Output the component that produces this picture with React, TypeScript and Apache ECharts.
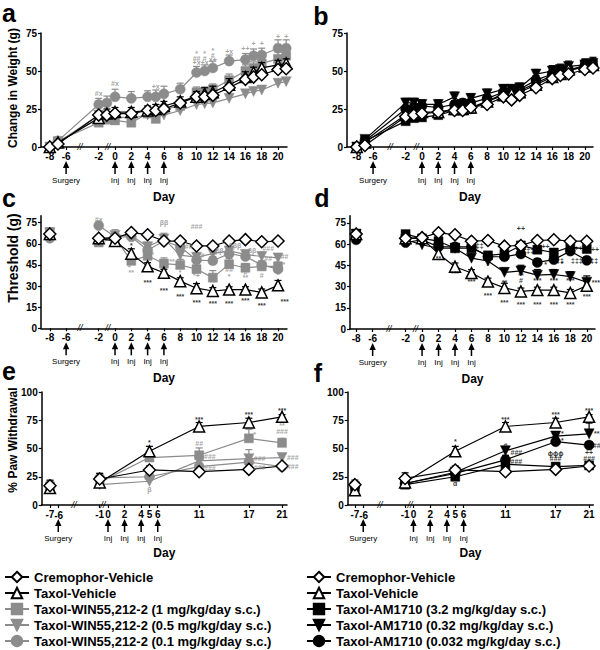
import React, { useEffect, useRef } from 'react';
import * as echarts from 'echarts';

const FONT = 'Liberation Sans, Arial, Helvetica, sans-serif';
const GREY = '#8c8c8c';

// ---- names ----
const CREM = 'Cremophor-Vehicle';
const TAX = 'Taxol-Vehicle';
const WIN1 = 'Taxol-WIN55,212-2 (1 mg/kg/day s.c.)';
const WIN05 = 'Taxol-WIN55,212-2 (0.5 mg/kg/day s.c.)';
const WIN01 = 'Taxol-WIN55,212-2 (0.1 mg/kg/day s.c.)';
const AM32 = 'Taxol-AM1710 (3.2 mg/kg/day s.c.)';
const AM032 = 'Taxol-AM1710 (0.32 mg/kg/day s.c.)';
const AM0032 = 'Taxol-AM1710 (0.032 mg/kg/day s.c.)';
const LEFT_NAMES = [CREM, TAX, WIN1, WIN05, WIN01];
const RIGHT_NAMES = [CREM, TAX, AM32, AM032, AM0032];

// ---- panels a & b: change in weight (g) ----
const weightDays = [-8, -7, -2, -1, 0, 2, 4, 5, 6, 8, 10, 11, 12, 14, 16, 17, 18, 20, 21];
const wCremA = [0, 2, 21, 21, 22, 22, 24, 24, 25, 29, 33, 33, 34, 39, 44.5, 46, 47.5, 51, 51.5];
const wTaxA = [0, 3, 19, 22, 23, 23, 24, 25, 27, 30, 33, 35, 36, 41, 46, 49, 52, 54, 55];
const wWin1 = [0, 4, 16, 18, 17.5, 16, 22, 18.5, 25, 27, 36, 36, 38, 44, 50, 52, 55, 58, 60];
const wWin05 = [0, 3, 21, 20, 20, 19, 21, 20, 21, 24, 28, 28.5, 29, 32, 35, 36.5, 37.5, 42, 43];
const wWin01 = [0, 4, 28, 29, 33, 32, 33, 33, 35, 38, 49, 50, 52, 56.5, 57.5, 60, 60.5, 65, 65];
const wCremB = [0, 1, 20, 21, 22, 23, 24, 24, 26, 28, 33, 31, 34, 39, 45, 47, 48, 51, 52];
const wTaxB = [0, 3, 21, 22, 23, 23, 25, 25, 26, 30, 34, 35, 36, 41, 46, 48, 51, 53, 54];
const wAm32 = [0, 4, 17, 19, 19.5, 21, 24, 24, 25, 30, 35, 36, 37, 42, 47, 49, 50, 54, 54];
const wAm032 = [0, 5, 29, 29, 28, 28, 33, 28, 32, 35, 38, 38, 39, 48, 50, 51, 53, 54, 55];
const wAm0032 = [0, 4, 25, 26, 27, 26, 28, 29, 29, 32, 36, 37, 38, 44, 48, 49, 50, 53, 53];
// SEM (upper error bars)
const sCremA = [0, 1, 2, 2, 2, 2, 2, 2, 2, 2, 2, 2, 2, 2, 2, 2, 2, 2, 2];
const sTaxA = [0, 1, 2.5, 3, 3, 3, 3, 3, 3, 3, 3.5, 4, 4, 4, 3.5, 3.5, 3.5, 3, 3];
const sWin1 = [0, 1.5, 2.5, 3, 3, 3, 3, 2.5, 3, 3, 3.5, 3.5, 3.5, 4, 4, 4, 4, 4.5, 4.5];
const sWin05 = [0, 1, 2, 2, 2, 2, 2, 2, 2, 2, 2, 2, 2, 2, 2, 2, 2, 2.5, 2.5];
const sWin01 = [0, 1.5, 4, 4.5, 5, 4.5, 4, 4.5, 5, 4, 4, 4, 4.5, 4, 4, 4.5, 4.5, 5.5, 5.5];
const sCremB = [0, 1, 2, 2, 2, 2, 2, 2, 2, 2, 2, 2, 2, 2, 2, 2, 2, 2, 2];
const sTaxB = [0, 1, 2.5, 3, 3, 3, 3, 3, 3, 3, 3, 3, 3, 3.5, 4, 4, 4, 4, 4];
const sAm32 = [0, 1, 2, 2, 2, 2, 2.5, 2.5, 2.5, 3, 3, 3, 3, 3, 3.5, 3.5, 3.5, 3.5, 3.5];
const sAm032 = [0, 1.5, 3, 3, 3, 3, 3, 3, 3, 3, 3, 3, 3, 3, 3.5, 3.5, 3.5, 4, 4];
const sAm0032 = [0, 1, 2.5, 2.5, 2.5, 2.5, 2.5, 2.5, 2.5, 2.5, 2.5, 2.5, 2.5, 3, 3, 3, 3, 3, 3];

// ---- panels c & d: threshold (g) ----
const thrDays = [-8, -2, 0, 2, 4, 6, 8, 10, 12, 14, 16, 18, 20];
const tCremC = [67, 64, 64, 68, 66.5, 62, 62, 58.5, 58.5, 62, 63, 61.5, 62];
const tTaxC = [67, 64, 62, 53, 44, 39.5, 33.5, 28.5, 26.5, 27.5, 27.5, 25.5, 30.5];
const tWin1 = [68, 61, 64, 48, 51.5, 46, 45, 42, 36, 45.5, 43, 44, 44];
const tWin05 = [68, 62, 66, 66, 58, 63.5, 52, 50.5, 53, 55, 52.5, 51, 50];
const tWin01 = [64, 73, 65, 65, 55.5, 62, 58, 48.5, 48, 53, 51, 45, 42];
const tCremD = [67, 64, 64.5, 68, 66.5, 62, 62.5, 58.5, 59, 62.5, 63, 62, 62];
const tTaxD = [67, 64, 64, 53, 44, 39.5, 33.5, 29, 26.5, 27.5, 27.5, 25.5, 30.5];
const tAm32 = [67, 67, 64, 62, 57, 57, 52, 53, 59, 56, 54, 58, 56.5];
const tAm032 = [67, 63, 59.5, 57, 57, 50, 48, 40, 41, 38, 38.5, 37, 33];
const tAm0032 = [63, 61, 63, 58, 58, 58, 51, 51, 53, 47, 49, 55, 48.5];
const sCremC = [1, 1, 1.5, 2, 1.5, 1.5, 2, 2, 1.5, 1.5, 1, 1.5, 1];
const sTaxC = [1, 1, 2, 3.5, 2.6, 2.4, 2.4, 3.3, 2.4, 2, 2, 2.4, 3.5];
const sWin1C = [3, 1.5, 3, 3, 4, 4, 4, 4, 5, 4, 3, 3, 3];
const sWin05C = [3, 2, 4, 3, 3, 4, 4, 3, 3, 3, 3, 3, 3];
const sWin01C = [2, 2, 3, 3, 3, 3, 3, 3, 3, 3, 3, 3, 3];
const sCremD = [1, 1, 1.5, 2, 1.5, 1.5, 2, 2, 1.5, 1.5, 1, 1.5, 1];
const sTaxD = [1, 1, 2, 3.5, 2.6, 2.4, 2.4, 3.3, 2.4, 2, 2, 2.4, 3.5];
const sAm32D = [2, 2, 2, 2.5, 2.5, 2.5, 2.5, 2.5, 2.5, 2.5, 2.5, 2.5, 2.5];
const sAm032D = [2, 2, 3, 3, 3, 3, 3, 2.8, 4, 4, 3.5, 3.5, 4.5];
const sAm0032D = [2, 2, 2, 2.5, 2.5, 2.5, 2.5, 2.5, 2.5, 2.5, 2.5, 2.5, 2.5];

// ---- panels e & f: % paw withdrawal ----
const pawDays = [-7, -1, 5, 11, 17, 21];
const pCremE = [17, 23, 31, 29.5, 31.5, 34.5];
const pTaxE = [15, 20, 47.5, 69.5, 73, 78];
const pWin1 = [16, 20, 42, 44, 59, 55];
const pWin05 = [16, 18, 21, 39, 41, 42];
const pWin01 = [16, 24, 25, 34, 38, 34];
const pCremF = [18, 23.5, 31, 29.5, 31.5, 34.5];
const pTaxF = [13, 20, 47.5, 69.5, 73, 78];
const pAm32 = [16, 18, 25, 36, 34, 35];
const pAm032 = [16, 19, 29, 48, 61, 63];
const pAm0032 = [17, 19, 28, 40, 56, 53];
const sCremE = [5, 5, 3.5, 1, 1.5, 1.5];
const sTaxE = [2, 3, 4.4, 3.5, 3.8, 2];
const sWin1E = [5, 3, 3, 6.5, 8, 4];
const sWin05E = [5, 3, 3, 3, 8, 3];
const sWin01E = [5, 4, 3, 3, 3, 2];
const sCremF = [4, 5, 3.5, 1, 1.5, 1.5];
const sTaxF = [2, 3, 4.4, 3.5, 3.8, 2];
const sAm32F = [4, 3, 3, 3, 3, 2];
const sAm032F = [3, 3, 3, 3.8, 4, 9.5];
const sAm0032F = [3, 3, 3, 4, 4, 3];

// ---- axis ticks ----
const ticksDayABCD = [-8, -6, -2, 0, 2, 4, 6, 8, 10, 12, 14, 16, 18, 20];
const ticksDayEF = [-7, -6, -1, 0, 2, 4, 5, 6, 11, 17, 21];
const labelsDayEF = [-7, -1, 0, 2, 4, 5, 6, 11, 17, 21]; // -6 drawn separately (touches -7)
const ticksWeight = [0, 25, 50, 75];
const ticksThr = [0, 15, 30, 45, 60, 75];
const ticksPaw = [0, 25, 50, 75, 100];
const arrowDays = [-6, 0, 2, 4, 6];
const arrowLabels = ['Surgery', 'Inj', 'Inj', 'Inj', 'Inj'];

// ---- significance annotations [day, value, text] ----
const annA: [number, number, string][] = [
  [-2, 35, '#x'], [0, 42, '#x'], [5, 40, '+x'],
  [10, 61.5, '*'], [10, 58.5, '##'], [10, 55.5, '+x'],
  [11, 61.5, '*'], [11, 58.5, '#'], [11, 55.5, '+x'],
  [12, 63.5, '*'], [12, 60.5, '#'], [12, 57.5, 'x+'],
  [14, 63, '+x'], [16, 64.5, '++'], [17, 68, '+'], [18, 68, '+'], [20, 72.5, '+'], [21, 72.5, '+'],
];
const annCGrey: [number, number, string][] = [
  [-2, 77.5, '#x'], [2, 45, '$+'], [2, 40, '**'], [4.6, 52.5, '*'], [6, 75, 'ββ'], [7, 47.8, '**'],
  [8.8, 58, '###'], [10, 72, '###'], [8, 39.7, '*'], [10.5, 52, '##'], [10, 37.8, '*+'],
  [12.8, 55, 'ββ'], [12, 32.6, '**'], [14.7, 58.7, 'βββ'], [14, 42, '##'], [14, 36.7, '*'],
  [16.8, 55, 'ββ'], [16, 40, '#'], [16, 36, '**'], [18.8, 56.8, '###'], [18.8, 49.7, '##'], [18, 37.8, '#'],
  [20.8, 50.9, '##'], [20.7, 45, '*'], [20, 38.3, '*'],
];
const annCBlack: [number, number, string][] = [
  [2, 58.7, '*'], [4, 32.6, '***'], [6, 27, '***'], [8, 22.5, '***'], [10, 18.5, '***'], [12, 17.7, '***'],
  [14, 17.7, '***'], [16, 19.4, '***'], [18, 16, '***'], [20.8, 19, '***'],
];
const annD: [number, number, string][] = [
  [2, 49.8, '**'], [4, 39, '***'], [6, 33.4, '***'], [8, 45, '*'], [8, 23.5, '***'], [10, 33, '**'], [10, 18.8, '***'],
  [12, 71, '++'], [12, 37.6, '**'], [12, 33.9, '#'], [12, 17, '***'], [14, 33.9, '***'], [14, 17, '***'],
  [15, 58, '++'], [15, 45.6, '*'], [16, 33.9, '***'], [16, 17, '***'], [18, 33.9, '***'], [18, 17, '***'],
  [19, 56.5, '++'], [21, 56, '++'], [21.1, 33, '***'], [20, 23, '***'],
  [7, 59, '‡‡'], [12.9, 55.6, '‡‡‡'], [16.5, 48.6, '‡‡‡'], [18.8, 48.6, '‡‡‡'], [20.9, 48.6, '‡‡'], [17, 46, '*'],
];
const annEBlack: [number, number, string][] = [
  [5, 55, '*'], [11, 76, '***'], [17, 80, '***'], [21, 84, '***'],
];
const annEGrey: [number, number, string][] = [
  [21, 70, '**'], [21, 65, '###'], [17.7, 62, '*'], [11, 54, '##'], [12.3, 43, '###'], [12.3, 32.5, '###'],
  [18.3, 41, '###'], [18.3, 33, '###'], [22.3, 42, '###'], [22.3, 34, '###'], [5, 14, 'β'],
];
const annF: [number, number, string][] = [
  [5, 56, '*'], [11, 76, '***'], [17, 80, '***'], [21, 84, '***'], [11, 53, '#'], [12.3, 46.4, '###'],
  [12.3, 38.5, '###'], [17.8, 63.6, '*'], [17.8, 57, '*'], [17, 45.9, 'ϕϕϕ'], [17, 41.4, '###'],
  [21.9, 63, '**'], [21.9, 52.7, '##'], [21, 46.4, '++'], [21, 41.4, '###'], [5, 19.2, 'α'],
];

type Sty = { symbol: string; size: number; rotate?: number; fill: string; stroke: string; line: string; z: number };
const STY: Record<string, Sty> = {
  [CREM]: { symbol: 'diamond', size: 12, fill: '#fff', stroke: '#000', line: '#000', z: 6 },
  [TAX]: { symbol: 'triangle', size: 11, fill: '#fff', stroke: '#000', line: '#000', z: 5 },
  [WIN1]: { symbol: 'rect', size: 9, fill: GREY, stroke: GREY, line: GREY, z: 3 },
  [WIN05]: { symbol: 'triangle', rotate: 180, size: 10, fill: GREY, stroke: GREY, line: GREY, z: 3 },
  [WIN01]: { symbol: 'circle', size: 10, fill: GREY, stroke: GREY, line: GREY, z: 3 },
  [AM32]: { symbol: 'rect', size: 9, fill: '#000', stroke: '#000', line: '#000', z: 3 },
  [AM032]: { symbol: 'triangle', rotate: 180, size: 10, fill: '#000', stroke: '#000', line: '#000', z: 3 },
  [AM0032]: { symbol: 'circle', size: 10, fill: '#000', stroke: '#000', line: '#000', z: 3 },
};

function lineSeries(name: string, days: number[], vals: number[], idx: number, gapAfterFirst: boolean) {
  const s = STY[name];
  const data: any[] = [];
  days.forEach((d, i) => {
    data.push([d, vals[i]]);
    if (gapAfterFirst && i === 0) data.push([(d + days[1]) / 2, '-']);
  });
  const open = s.fill === '#fff';
  return {
    type: 'line',
    name,
    xAxisIndex: idx,
    yAxisIndex: idx,
    data,
    symbol: s.symbol,
    symbolSize: s.size,
    symbolRotate: s.rotate || 0,
    showAllSymbol: true,
    connectNulls: false,
    clip: false,
    z: s.z,
    lineStyle: { color: s.line, width: 1.2 },
    itemStyle: { color: s.fill, borderColor: s.stroke, borderWidth: open ? 1.5 : 0.5, opacity: 1 },
    emphasis: { disabled: true },
    silent: true,
  };
}

function errSeries(name: string, days: number[], vals: number[], sems: number[], idx: number) {
  const s = STY[name];
  const color = s.line;
  return {
    type: 'custom',
    xAxisIndex: idx,
    yAxisIndex: idx,
    silent: true,
    z: s.z - 0.5,
    encode: { x: 0, y: [1, 2] },
    data: days.map((d, i) => [d, vals[i], vals[i] + sems[i]]),
    renderItem: (_p: any, api: any) => {
      const x = api.value(0);
      const p0 = api.coord([x, api.value(1)]);
      const p1 = api.coord([x, api.value(2)]);
      if (Math.abs(p0[1] - p1[1]) < 0.5) return { type: 'group', children: [] };
      return {
        type: 'group',
        children: [
          { type: 'line', shape: { x1: p0[0], y1: p0[1], x2: p1[0], y2: p1[1] }, style: { stroke: color, lineWidth: 1.2 } },
          { type: 'line', shape: { x1: p1[0] - 3.5, y1: p1[1], x2: p1[0] + 3.5, y2: p1[1] }, style: { stroke: color, lineWidth: 1.2 } },
        ],
      };
    },
  };
}

function annSeries(idx: number, list: [number, number, string][], color: string) {
  return {
    type: 'scatter',
    xAxisIndex: idx,
    yAxisIndex: idx,
    symbolSize: 1,
    clip: false,
    silent: true,
    z: 8,
    itemStyle: { color: 'rgba(0,0,0,0)' },
    label: { show: true, position: 'inside', fontSize: 7, fontWeight: 'bold', fontFamily: FONT, color },
    data: list.map((a) => ({ value: [a[0], a[1]], label: { formatter: a[2] } })),
  };
}

const GRIDS = [
  { left: 41, top: 33, width: 246, height: 114, xmin: -9.08, xmax: 21.1, ymax: 75, yt: ticksWeight, xt: ticksDayABCD, xl: ticksDayABCD },
  { left: 347, top: 33, width: 246, height: 114, xmin: -9.2, xmax: 21.0, ymax: 75, yt: ticksWeight, xt: ticksDayABCD, xl: ticksDayABCD },
  { left: 41, top: 215.7, width: 246, height: 112.6, xmin: -9.08, xmax: 21.1, ymax: 80, yt: ticksThr, xt: ticksDayABCD, xl: ticksDayABCD },
  { left: 350, top: 215.7, width: 245, height: 113.3, xmin: -8.75, xmax: 21.0, ymax: 80, yt: ticksThr, xt: ticksDayABCD, xl: ticksDayABCD },
  { left: 41.7, top: 392, width: 245.3, height: 113, xmin: -8.0, xmax: 21.6, ymax: 100, yt: ticksPaw, xt: ticksDayEF, xl: labelsDayEF },
  { left: 347.7, top: 392, width: 245.6, height: 113, xmin: -7.86, xmax: 21.5, ymax: 100, yt: ticksPaw, xt: ticksDayEF, xl: labelsDayEF },
];
const NAME_GAPS = [44, 44, 44, 44, 42, 42];

const tickLabel = { fontSize: 10, fontWeight: 'bold', color: '#000', fontFamily: FONT };

export default function App() {
  const ref = useRef<HTMLDivElement>(null);
  useEffect(() => {
    document.body.style.margin = '0';
    const chart = echarts.init(ref.current!, null, { renderer: 'svg' });

    const grid = GRIDS.map((g) => ({ left: g.left, top: g.top, width: g.width, height: g.height, outerBoundsMode: 'none' }));
    const xAxis = GRIDS.map((g, i) => ({
      type: 'value',
      gridIndex: i,
      min: g.xmin,
      max: g.xmax,
      axisLine: { show: true, onZero: false, lineStyle: { color: '#000', width: 1.5 } },
      axisTick: { show: true, customValues: g.xt, length: 3, lineStyle: { color: '#000', width: 1.2 } },
      axisLabel: { ...tickLabel, customValues: g.xl, margin: 4, showMinLabel: true, showMaxLabel: true },
      splitLine: { show: false },
      name: 'Day',
      nameLocation: 'middle',
      nameGap: NAME_GAPS[i],
      nameTextStyle: { fontSize: 12, fontWeight: 'bold', color: '#000', fontFamily: FONT },
    }));
    const yAxis = GRIDS.map((g, i) => ({
      type: 'value',
      gridIndex: i,
      min: 0,
      max: g.ymax,
      axisLine: { show: true, onZero: false, lineStyle: { color: '#000', width: 1.5 } },
      axisTick: { show: true, customValues: g.yt, length: 3, lineStyle: { color: '#000', width: 1.2 } },
      axisLabel: { ...tickLabel, customValues: g.yt, margin: 4, showMinLabel: true, showMaxLabel: true },
      splitLine: { show: false },
    }));

    const panel = (idx: number, days: number[], gap: boolean, rows: [string, number[], number[]][]) => {
      const out: any[] = [];
      rows.forEach(([n, v, s]) => {
        out.push(errSeries(n, days, v, s, idx));
        out.push(lineSeries(n, days, v, idx, gap));
      });
      return out;
    };

    const series: any[] = [
      ...panel(0, weightDays, false, [
        [WIN05, wWin05, sWin05], [WIN1, wWin1, sWin1], [WIN01, wWin01, sWin01], [TAX, wTaxA, sTaxA], [CREM, wCremA, sCremA],
      ]),
      ...panel(1, weightDays, false, [
        [AM32, wAm32, sAm32], [AM032, wAm032, sAm032], [AM0032, wAm0032, sAm0032], [TAX, wTaxB, sTaxB], [CREM, wCremB, sCremB],
      ]),
      ...panel(2, thrDays, true, [
        [WIN05, tWin05, sWin05C], [WIN1, tWin1, sWin1C], [WIN01, tWin01, sWin01C], [TAX, tTaxC, sTaxC], [CREM, tCremC, sCremC],
      ]),
      ...panel(3, thrDays, true, [
        [AM32, tAm32, sAm32D], [AM032, tAm032, sAm032D], [AM0032, tAm0032, sAm0032D], [TAX, tTaxD, sTaxD], [CREM, tCremD, sCremD],
      ]),
      ...panel(4, pawDays, true, [
        [WIN05, pWin05, sWin05E], [WIN1, pWin1, sWin1E], [WIN01, pWin01, sWin01E], [TAX, pTaxE, sTaxE], [CREM, pCremE, sCremE],
      ]),
      ...panel(5, pawDays, true, [
        [AM32, pAm32, sAm32F], [AM032, pAm032, sAm032F], [AM0032, pAm0032, sAm0032F], [TAX, pTaxF, sTaxF], [CREM, pCremF, sCremF],
      ]),
      annSeries(0, annA, GREY),
      annSeries(2, annCGrey, GREY),
      annSeries(2, annCBlack, '#000'),
      annSeries(3, annD, '#000'),
      annSeries(4, annEBlack, '#000'),
      annSeries(4, annEGrey, GREY),
      annSeries(5, annF, '#000'),
    ];

    const legendBase = {
      orient: 'vertical',
      top: 569,
      padding: 0,
      itemWidth: 24,
      itemHeight: 13,
      itemGap: 0,
      selectedMode: false,
      inactiveColor: '#000',
      textStyle: { fontSize: 13, fontWeight: 'bold', color: '#000', fontFamily: FONT, lineHeight: 16 },
    };

    chart.setOption({
      animation: false,
      grid,
      xAxis,
      yAxis,
      series,
      legend: [
        { ...legendBase, left: 4, data: LEFT_NAMES },
        { ...legendBase, left: 306, data: RIGHT_NAMES },
      ],
    });

    const px = (i: number, x: number, y: number) => chart.convertToPixel({ gridIndex: i } as any, [x, y]) as number[];
    const txt = (x: number, y: number, text: string, size: number, extra: any = {}, rot = 0) => ({
      type: 'text',
      x,
      y,
      rotation: rot,
      silent: true,
      style: {
        text,
        fill: '#000',
        fontSize: size,
        fontWeight: extra.weight || 'normal',
        fontStyle: extra.style || 'normal',
        fontFamily: FONT,
        align: extra.align || 'center',
        verticalAlign: 'middle',
        textAlign: extra.align || 'center',
        textVerticalAlign: 'middle',
      },
    });

    const graphic: any[] = [];
    const letters: [string, number, number][] = [
      ['a', 9, 13], ['b', 321, 16], ['c', 9, 198], ['d', 322, 198], ['e', 9, 371], ['f', 318, 373],
    ];
    letters.forEach(([t, x, y]) => graphic.push(txt(x, y, t, 25, { weight: 'bold' })));
    graphic.push(txt(13, 88, 'Change in Weight (g)', 12, { weight: 'bold' }, Math.PI / 2));
    graphic.push(txt(13, 258, 'Threshold (g)', 14, { weight: 'bold' }, Math.PI / 2));
    graphic.push(txt(13, 440, '% Paw Withdrawal', 12, { weight: 'bold' }, Math.PI / 2));

    const breaks = [
      [-4.3, -0.9], [-3.9, -0.7], [-4.3, -0.9], [-4.0, -0.8], [-4.1, -0.6], [-4.0, -0.4],
    ];
    for (let i = 0; i < 6; i++) {
      arrowDays.forEach((d, k) => {
        const [x, y] = px(i, d, 0);
        graphic.push({
          type: 'polygon',
          silent: true,
          shape: { points: [[x, y + 14], [x - 3.2, y + 21], [x + 3.2, y + 21]] },
          style: { fill: '#000' },
        });
        graphic.push({
          type: 'line',
          silent: true,
          shape: { x1: x, y1: y + 20, x2: x, y2: y + 27 },
          style: { stroke: '#000', lineWidth: 1.5 },
        });
        graphic.push(txt(x, y + 33, arrowLabels[k], 8));
      });
      breaks[i].forEach((d) => {
        const [x, y] = px(i, d, 0);
        graphic.push(txt(x, y, '//', 9, { style: 'italic' }));
      });
      if (i >= 4) {
        const [x, y] = px(i, -6, 0);
        graphic.push(txt(x - 4, y + 10.5, '-6', 10, { weight: 'bold', align: 'left' }));
      }
    }
    chart.setOption({ graphic });

    return () => chart.dispose();
  }, []);
  return <div ref={ref} style={{ width: 600, height: 650 }} />;
}
